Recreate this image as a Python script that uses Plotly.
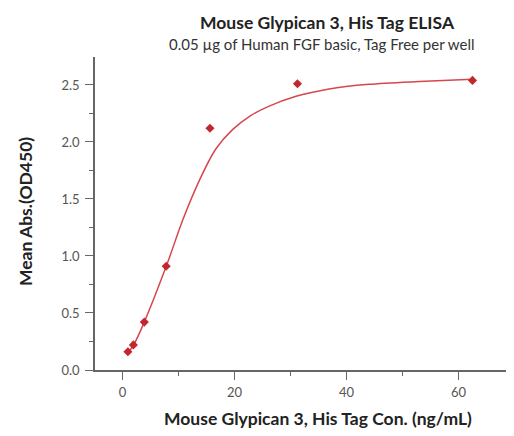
import plotly.graph_objects as go

# Measured points
conc = [0.977, 1.953, 3.906, 7.8125, 15.625, 31.25, 62.5]
od450 = [0.16, 0.22, 0.42, 0.91, 2.12, 2.51, 2.54]

# Fitted curve
curve_x = [0.98, 2.0, 3.9, 7.9, 10.8, 13.8, 16.7, 19.7, 22.7, 26.0, 31.0, 36.9, 44.0, 53.0, 62.5]
curve_y = [0.15, 0.22, 0.42, 0.92, 1.32, 1.67, 1.94, 2.11, 2.225, 2.31, 2.40, 2.465, 2.505, 2.53, 2.55]

x_ticks = [0, 20, 40, 60]
y_ticks = [0.0, 0.5, 1.0, 1.5, 2.0, 2.5]
y_tick_labels = ["0.0", "0.5", "1.0", "1.5", "2.0", "2.5"]

title = "Mouse Glypican 3, His Tag ELISA"
subtitle = "0.05 µg of Human FGF basic, Tag Free per well"
x_title = "Mouse Glypican 3, His Tag Con. (ng/mL)"
y_title = "Mean Abs.(OD450)"

OFF = 8  # page body margin
W, H = 514 - OFF, 436 - OFF
L, R, T, B = 87, 4, 49, 66
pw, ph = W - L - R, H - T - B

def px(x):
    return (x - OFF - L) / pw

def py(y):
    return (H - B - (y - OFF)) / ph

FONT = "Lato, 'Open Sans', sans-serif"
axis_col = "#666666"

fig = go.Figure()
fig.add_trace(go.Scatter(x=curve_x, y=curve_y, mode="lines",
                         line=dict(color="#d6474d", width=1.5, shape="spline", smoothing=0.9),
                         hoverinfo="skip", showlegend=False))
fig.add_trace(go.Scatter(x=conc, y=od450, mode="markers",
                         marker=dict(symbol="diamond", size=7, color="#c1272d"),
                         showlegend=False))

axis_common = dict(showgrid=False, zeroline=False, showline=True, linecolor=axis_col,
                   linewidth=1.5, ticks="outside", ticklen=8, tickwidth=1.2, tickcolor=axis_col,
                   tickfont=dict(family=FONT, size=13, color="#555555"))

fig.update_xaxes(range=[-4.9, 69.2], tickvals=x_ticks, ticklabelstandoff=2,
                 minor=dict(ticks="outside", dtick=10, tick0=0, ticklen=4, tickcolor=axis_col, tickwidth=1),
                 **axis_common)
fig.update_yaxes(range=[0, 2.745], tickvals=y_ticks, ticktext=y_tick_labels, ticklabelstandoff=3,
                 minor=dict(ticks="outside", dtick=0.25, tick0=0, ticklen=4, tickcolor=axis_col, tickwidth=1),
                 **axis_common)

ann = [
    dict(text="<b>" + title + "</b>", x=px(327), y=py(23), font=dict(size=17.5, color="#222222")),
    dict(text=subtitle, x=px(322), y=py(44), font=dict(size=15, color="#333333")),
    dict(text="<b>" + x_title + "</b>", x=px(318), y=py(418), font=dict(size=17.5, color="#222222")),
    dict(text="<b>" + y_title + "</b>", x=px(25), y=py(212), textangle=-90,
         font=dict(size=17.5, color="#222222")),
]
for a in ann:
    a.update(xref="paper", yref="paper", showarrow=False, xanchor="center", yanchor="middle")
    a["font"]["family"] = FONT
    fig.add_annotation(**a)

fig.update_layout(width=W, height=H, margin=dict(l=L, r=R, t=T, b=B),
                  paper_bgcolor="white", plot_bgcolor="white",
                  font=dict(family=FONT))

fig.write_html("out.html")
